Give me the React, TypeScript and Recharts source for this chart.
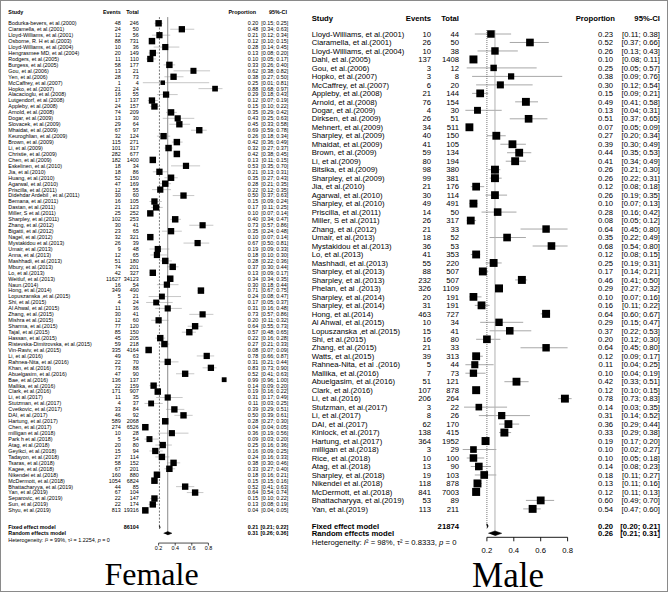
import React from "react";
import { ScatterChart, Scatter, XAxis, YAxis, ErrorBar, ReferenceLine } from "recharts";

// ---- Female ----
const femaleStudies = [
  "Bodurka-bevers, et al.(2000)", "Ciaramella, et al.(2001)", "Lloyd-Williams, et al.(2001)", "Osborne, R. H et al.(2003)",
  "Lloyd-Williams, et al.(2004)", "Hengrasmee MD, et al.(2004)", "Rodgers, et al.(2005)", "Burgess, et al.(2005)",
  "Gou, et al.(2006)", "Yen, et al.(2006)", "McCaffrey, et al.(2007)", "Hopko, et al.(2007)", "Alacacioglu, et al.(2008)",
  "Lutgendorf, et al.(2008)", "Appleby, et al.(2008)", "Arnold, et al.(2008)", "Dogar, et al.(2009)", "Slovacek, et al.(2009)",
  "Mhaidat, et al.(2009)", "Keuroghlian, et al.(2009)", "Brown, et al.(2009)", "Li, et al.(2009)", "Christie, et al.(2009)",
  "Chen, et al.(2009)", "Eskelinen, et al.(2010)", "Jia, et al.(2010)", "Huang, et al.(2010)", "Agarwal, et al.(2010)",
  "Priscilla, et al.(2011)", "Didehdar Ardebil , et al.(2011)", "Bemana, et al.(2011)", "Dastan, et al.(2011)",
  "Miller, S et al.(2011)", "Sharpley, et al.(2011)", "Zhang, et al.(2012)", "Bigatti, et al.(2012)", "Nagel, et al.(2012)",
  "Mystakidou et al.(2013)", "Umair, et al.(2013)", "Anna, et al.(2013)", "Mashhadi, et al.(2013)", "Mbury, et al.(2013)",
  "Lo, et al.(2013)", "Weitluf, et al.(2013)", "Naun.(2014)", "Hong, et al.(2014)", "Lopuszanska ,et al.(2015)",
  "Shi, et al.(2015)", "Al Ahwal, et al.(2015)", "Zhang, et al.(2015)", "Mishra et al.(2015)", "Sharma, et al.(2015)",
  "Tajal, et al.(2015)", "Hassan, et al.(2015)", "Ristevska-Dimitrovska, et al.(2015)", "Vin-Raviv, et al.(2015)",
  "Li, et al.(2016)", "Rahnea-Nita, et al.(2016)", "Khan, et al.(2016)", "Abuelgasim, et al.(2016)", "Bae, et al.(2016)",
  "Mallika, et al.(2016)", "Clark, et al.(2016)", "Li, et al.(2017)", "Stutzman, et al.(2017)", "Cvetkovic, et al.(2017)",
  "DAI, et al.(2017)", "Hartung, et al.(2017)", "Chen, et al.(2017)", "milligan et al.(2018)", "Park h et al.(2018)",
  "Atag, et al.(2018)", "Geyikci, et al.(2018)", "Tadayon, et al.(2018)", "Tsaras, et al.(2018)", "Kagee, et al.(2018)",
  "Nikendei et al.(2018)", "McDermott, et al.(2018)", "Bhattacharyya, et al.(2019)", "Yan, et al.(2019)",
  "Separovic, et al.(2019)", "Sun, et al.(2019)", "Shyu, et al.(2019)",
];
const femaleEvents = [48, 24, 12, 88, 10, 20, 11, 58, 13, 28, 1, 21, 16, 17, 24, 74, 13, 29, 67, 32, 115, 101, 282, 182, 18, 18, 52, 47, 12, 30, 16, 21, 25, 102, 30, 23, 32, 26, 9, 12, 51, 74, 42, 11627, 16, 349, 5, 4, 11, 30, 12, 77, 85, 45, 59, 335, 49, 22, 73, 47, 136, 22, 171, 11, 4, 33, 46, 589, 274, 10, 5, 20, 15, 27, 58, 67, 160, 1054, 44, 67, 22, 22, 813];
const femaleTotals = [246, 50, 56, 731, 36, 149, 110, 177, 21, 73, 4, 24, 55, 137, 157, 209, 30, 64, 97, 124, 271, 317, 677, 1400, 34, 86, 150, 169, 55, 60, 105, 123, 252, 253, 41, 65, 321, 39, 48, 65, 180, 201, 327, 34123, 54, 490, 21, 24, 36, 41, 60, 120, 150, 205, 218, 4164, 63, 70, 88, 90, 137, 159, 907, 35, 37, 84, 92, 2068, 6526, 28, 54, 80, 94, 114, 152, 201, 880, 6824, 85, 104, 147, 174, 19316];
const femaleProp = [0.20, 0.48, 0.21, 0.12, 0.28, 0.13, 0.10, 0.33, 0.62, 0.38, 0.25, 0.88, 0.29, 0.12, 0.15, 0.35, 0.43, 0.45, 0.69, 0.26, 0.42, 0.32, 0.42, 0.13, 0.53, 0.21, 0.35, 0.28, 0.22, 0.50, 0.15, 0.17, 0.10, 0.40, 0.73, 0.35, 0.10, 0.67, 0.19, 0.18, 0.28, 0.37, 0.13, 0.34, 0.30, 0.71, 0.24, 0.17, 0.31, 0.73, 0.20, 0.64, 0.57, 0.22, 0.27, 0.08, 0.78, 0.31, 0.83, 0.52, 0.99, 0.14, 0.19, 0.31, 0.11, 0.39, 0.50, 0.28, 0.04, 0.36, 0.09, 0.25, 0.16, 0.24, 0.38, 0.33, 0.18, 0.15, 0.52, 0.64, 0.15, 0.13, 0.04];
const femaleLower = [0.15, 0.34, 0.12, 0.10, 0.14, 0.08, 0.05, 0.26, 0.38, 0.27, 0.01, 0.68, 0.18, 0.07, 0.10, 0.29, 0.25, 0.33, 0.59, 0.18, 0.36, 0.27, 0.38, 0.11, 0.35, 0.13, 0.27, 0.21, 0.12, 0.37, 0.09, 0.11, 0.07, 0.34, 0.57, 0.24, 0.07, 0.50, 0.09, 0.10, 0.22, 0.30, 0.09, 0.34, 0.18, 0.67, 0.08, 0.05, 0.16, 0.57, 0.11, 0.55, 0.48, 0.16, 0.21, 0.07, 0.66, 0.21, 0.73, 0.41, 0.96, 0.09, 0.16, 0.17, 0.03, 0.29, 0.39, 0.27, 0.04, 0.19, 0.03, 0.16, 0.09, 0.16, 0.30, 0.27, 0.16, 0.15, 0.41, 0.54, 0.10, 0.08, 0.04];
const femaleUpper = [0.25, 0.63, 0.34, 0.15, 0.45, 0.20, 0.17, 0.40, 0.82, 0.50, 0.81, 0.97, 0.43, 0.19, 0.22, 0.42, 0.63, 0.58, 0.78, 0.34, 0.49, 0.37, 0.45, 0.15, 0.70, 0.31, 0.43, 0.35, 0.35, 0.63, 0.24, 0.25, 0.14, 0.47, 0.86, 0.48, 0.14, 0.81, 0.33, 0.30, 0.36, 0.44, 0.17, 0.35, 0.44, 0.75, 0.47, 0.37, 0.48, 0.86, 0.32, 0.73, 0.65, 0.28, 0.33, 0.09, 0.87, 0.44, 0.90, 0.63, 1.00, 0.20, 0.22, 0.49, 0.25, 0.51, 0.61, 0.30, 0.05, 0.56, 0.20, 0.36, 0.25, 0.33, 0.46, 0.40, 0.21, 0.16, 0.63, 0.74, 0.22, 0.19, 0.05];
const femaleTotal = 86104;
const femaleFixed = [0.21, 0.21, 0.22];
const femaleRandom = [0.31, 0.26, 0.36];
const femaleHet = { i2: "99%", tau2: 1.2254 };

// ---- Male ----
const maleStudies = [
  "Lloyd-Williams, et al.(2001)", "Ciaramella, et al.(2001)", "Lloyd-Williams, et al.(2004)", "Dahl, et al.(2005)",
  "Gou, et al.(2006)", "Hopko, et al.(2007)", "McCaffrey, et al.(2007)", "Appleby, et al.(2008)", "Arnold, et al.(2008)",
  "Dogar, et al.(2009)", "Dirksen, et al.(2009)", "Mehnert, et al.(2009)", "Sharpley, et al.(2009)", "Mhaidat, et al.(2009)",
  "Brown, et al.(2009)", "Li, et al.(2009)", "Bitsika, et al.(2009)", "Sharpley, et al.(2009)", "Jia, et al.(2010)",
  "Agarwal, et al.(2010)", "Sharpley, et al.(2010)", "Priscilla, et al.(2011)", "Miller, S et al.(2011)", "Zhang, et al.(2012)",
  "Umair, et al.(2013)", "Mystakidou et al.(2013)", "Lo, et al.(2013)", "Mashhadi, et al.(2013)", "Sharpley, et al.(2013)",
  "Sharpley, et al.(2013)", "Phelan, et al .(2013)", "Sharpley, et al.(2014)", "Sharpley, et al.(2014)", "Hong, et al.(2014)",
  "Al Ahwal, et al.(2015)", "Lopuszanska ,et al.(2015)", "Shi, et al.(2015)", "Zhang, et al.(2015)", "Watts, et al.(2015)",
  "Rahnea-Nita, et al .(2016)", "Mallika, et al.(2016)", "Abuelgasim, et al.(2016)", "Clark, et al.(2016)", "Li, et al.(2016)",
  "Stutzman, et al.(2017)", "Li, et al.(2017)", "DAI, et al.(2017)", "Kinlock, et al.(2017)", "Hartung, et al.(2017)",
  "milligan et al.(2018)", "Rice, et al.(2018)", "Atag, et al.(2018)", "Sharpley, et al.(2018)", "Nikendei et al.(2018)",
  "McDermott, et al.(2018)", "Bhattacharyya, et al.(2019)", "Yan, et al.(2019)",
];
const maleEvents = [10, 26, 10, 137, 3, 3, 6, 21, 76, 4, 26, 34, 40, 41, 59, 80, 98, 99, 21, 30, 49, 14, 26, 21, 18, 36, 41, 55, 88, 232, 326, 20, 31, 463, 10, 15, 16, 21, 39, 5, 7, 51, 107, 206, 3, 8, 62, 138, 364, 3, 10, 13, 19, 118, 841, 53, 113];
const maleTotals = [44, 50, 38, 1408, 12, 8, 20, 144, 154, 30, 51, 511, 150, 105, 134, 194, 380, 381, 176, 114, 491, 50, 317, 33, 52, 53, 353, 220, 507, 507, 1109, 191, 191, 727, 34, 41, 80, 33, 313, 44, 73, 121, 878, 264, 22, 26, 170, 415, 1952, 29, 100, 90, 103, 878, 7003, 89, 211];
const maleProp = [0.23, 0.52, 0.26, 0.10, 0.25, 0.38, 0.30, 0.15, 0.49, 0.13, 0.51, 0.07, 0.27, 0.39, 0.44, 0.41, 0.26, 0.26, 0.12, 0.26, 0.10, 0.28, 0.08, 0.64, 0.35, 0.68, 0.12, 0.25, 0.17, 0.46, 0.29, 0.10, 0.16, 0.64, 0.29, 0.37, 0.20, 0.64, 0.12, 0.11, 0.10, 0.42, 0.12, 0.78, 0.14, 0.31, 0.36, 0.33, 0.19, 0.10, 0.10, 0.14, 0.18, 0.13, 0.12, 0.60, 0.54];
const maleLower = [0.11, 0.37, 0.13, 0.08, 0.05, 0.09, 0.12, 0.09, 0.41, 0.04, 0.37, 0.05, 0.20, 0.30, 0.35, 0.34, 0.21, 0.22, 0.08, 0.19, 0.07, 0.16, 0.05, 0.45, 0.22, 0.54, 0.08, 0.19, 0.14, 0.41, 0.27, 0.07, 0.11, 0.60, 0.15, 0.22, 0.12, 0.45, 0.09, 0.04, 0.04, 0.33, 0.10, 0.73, 0.03, 0.14, 0.29, 0.29, 0.17, 0.02, 0.05, 0.08, 0.11, 0.11, 0.11, 0.49, 0.47];
const maleUpper = [0.38, 0.66, 0.43, 0.11, 0.57, 0.76, 0.54, 0.21, 0.58, 0.31, 0.65, 0.09, 0.34, 0.49, 0.53, 0.49, 0.30, 0.31, 0.18, 0.35, 0.13, 0.42, 0.12, 0.80, 0.49, 0.80, 0.15, 0.31, 0.21, 0.50, 0.32, 0.16, 0.22, 0.67, 0.47, 0.53, 0.30, 0.80, 0.17, 0.25, 0.19, 0.51, 0.15, 0.83, 0.35, 0.52, 0.44, 0.38, 0.20, 0.27, 0.18, 0.23, 0.27, 0.16, 0.13, 0.70, 0.60];
const maleTotal = 21874;
const maleFixed = [0.20, 0.20, 0.21];
const maleRandom = [0.26, 0.21, 0.31];
const maleHet = { i2: "98%", tau2: 0.8333 };

const xTicks = [0.2, 0.4, 0.6, 0.8];

const SANS = '"Liberation Sans", Arial, Helvetica, sans-serif';

interface Geo {
  left: number; width: number; top: number; bottom: number; right: number; axisW: number;
  font: number; sideMax: number; headerRow: number; fixedRow: number; randomRow: number;
  domain: [number, number]; lineTop: number; hetDy: number;
  study: number; events: number; total: number; prop: number; ci: number; propHead: number; ciHead: number;
  tickSize: number; tickMargin: number; ciStroke: string; ciWidth: number; axisWidth: number;
  fixedDash: string; randomStroke: string;
}

const leftGeo: Geo = {
  left: 0, width: 305, top: 8.45, bottom: 28.95, right: 80, axisW: 142,
  font: 5.4, sideMax: 6.5, headerRow: -0.95, fixedRow: 85.85, randomRow: 86.85,
  domain: [-1.5, 88.5], lineTop: -0.05, hetDy: 7,
  study: 8.3, events: 120.7, total: 138.7, prop: 258.3, ci: 288.3, propHead: 256, ciHead: 287,
  tickSize: 2.5, tickMargin: 1, ciStroke: "#b0b0b0", ciWidth: 0.7, axisWidth: 0.7,
  fixedDash: "2 1.5", randomStroke: "#8a8a8a",
};

const rightGeo: Geo = {
  left: 305, width: 363, top: 12.8, bottom: 34.7, right: 73.5, axisW: 155,
  font: 7.7, sideMax: 8, headerRow: -0.85, fixedRow: 59.02, randomRow: 59.88,
  domain: [-1.5, 60.35], lineTop: 0.53, hetDy: 9,
  study: 6.7, events: 126, total: 154, prop: 308, ci: 355, propHead: 310, ciHead: 355,
  tickSize: 4, tickMargin: 6, ciStroke: "#a8a8a8", ciWidth: 1, axisWidth: 0.9,
  fixedDash: "1 1", randomStroke: "#b0b0b0",
};

interface PanelProps {
  studies: string[]; events: number[]; totals: number[];
  prop: number[]; lower: number[]; upper: number[];
  total: number; fixed: number[]; random: number[]; het: { i2: string; tau2: number };
  geo: Geo;
}

const ci = (lo: number, hi: number) => `[${lo.toFixed(2)}; ${hi.toFixed(2)}]`;
const noDot = () => <g />;

function ForestPanel(p: PanelProps) {
  const g = p.geo;
  // random-effects weight -> square side
  const points = p.studies.map((name, i) => {
    const e = p.events[i];
    const n = p.totals[i];
    const v = 1 / Math.max(e, 0.5) + 1 / Math.max(n - e, 0.5);
    const w = 1 / (v + p.het.tau2);
    return {
      x: p.prop[i],
      row: i + 1,
      err: [p.prop[i] - p.lower[i], p.upper[i] - p.prop[i]],
      side: g.sideMax * Math.sqrt(w * p.het.tau2),
    };
  });

  const h = 0.28;
  const diamond = (est: number[], row: number) => [
    { x: est[1], row },
    { x: est[0], row: row - h },
    { x: est[2], row },
    { x: est[0], row: row + h },
  ];
  const vline = (x: number, rowEnd: number) => [
    { x, row: g.lineTop },
    { x, row: rowEnd },
  ];

  const ticks = [g.headerRow, ...p.studies.map((_, i) => i + 1), g.fixedRow, g.randomRow];

  const txt = (x: number, y: number, s: React.ReactNode, anchor: "start" | "end", bold = false) => (
    <text x={x} y={y} dy="0.35em" fontSize={g.font} fontFamily={SANS} fontWeight={bold ? "bold" : "normal"}
      textAnchor={anchor} fill="#000">{s}</text>
  );

  const renderRow = (props: any) => {
    const { y, payload } = props;
    const v = payload.value;
    if (v === g.headerRow) {
      return (
        <g>
          {txt(g.study, y, "Study", "start", true)}
          {txt(g.events, y, "Events", "end", true)}
          {txt(g.total, y, "Total", "end", true)}
          {txt(g.propHead, y, "Proportion", "end", true)}
          {txt(g.ciHead, y, "95%-CI", "end", true)}
        </g>
      );
    }
    if (v === g.fixedRow) {
      return (
        <g>
          {txt(g.study, y, "Fixed effect model", "start", true)}
          {txt(g.total, y, String(p.total), "end", true)}
          {txt(g.prop, y, p.fixed[0].toFixed(2), "end", true)}
          {txt(g.ci, y, ci(p.fixed[1], p.fixed[2]), "end", true)}
        </g>
      );
    }
    if (v === g.randomRow) {
      return (
        <g>
          {txt(g.study, y, "Random effects model", "start", true)}
          {txt(g.prop, y, p.random[0].toFixed(2), "end", true)}
          {txt(g.ci, y, ci(p.random[1], p.random[2]), "end", true)}
          <text x={g.study} y={y + g.hetDy} dy="0.35em" fontSize={g.font} fontFamily={SANS} fill="#000">
            Heterogeneity: <tspan fontStyle="italic">I</tspan>{`² = ${p.het.i2}, τ² = ${p.het.tau2.toFixed(4)}, `}
            <tspan fontStyle="italic">p</tspan> = 0
          </text>
        </g>
      );
    }
    const i = v - 1;
    if (i < 0 || i >= p.studies.length) return <g />;
    return (
      <g>
        {txt(g.study, y, p.studies[i], "start")}
        {txt(g.events, y, String(p.events[i]), "end")}
        {txt(g.total, y, String(p.totals[i]), "end")}
        {txt(g.prop, y, p.prop[i].toFixed(2), "end")}
        {txt(g.ci, y, ci(p.lower[i], p.upper[i]), "end")}
      </g>
    );
  };

  return (
    <div style={{ position: "absolute", left: g.left, top: 0 }}>
      <ScatterChart width={g.width} height={592} margin={{ top: g.top, right: g.right, bottom: g.bottom, left: 0 }}>
        <XAxis type="number" dataKey="x" domain={[0, 1]} ticks={xTicks} interval={0} height={20}
          axisLine={false} tickSize={g.tickSize} tickMargin={g.tickMargin}
          tickLine={{ stroke: "#000", strokeWidth: g.axisWidth }}
          tick={{ fontSize: g.font, fill: "#000", fontFamily: SANS }} />
        <YAxis type="number" dataKey="row" domain={g.domain} reversed ticks={ticks} interval={0}
          width={g.axisW} axisLine={false} tickLine={false} tick={renderRow} />
        <ReferenceLine segment={[{ x: xTicks[0], y: g.domain[1] }, { x: xTicks[xTicks.length - 1], y: g.domain[1] }]}
          stroke="#000" strokeWidth={g.axisWidth} ifOverflow="visible" />
        {/* random-effects and fixed-effect estimate lines */}
        <Scatter data={vline(p.random[0], g.randomRow)} isAnimationActive={false} fill={g.randomStroke}
          line={{ stroke: g.randomStroke, strokeWidth: 1 }} shape={noDot} />
        <Scatter data={vline(p.fixed[0], g.fixedRow)} isAnimationActive={false} fill="#666"
          line={{ stroke: "#666", strokeWidth: 0.9, strokeDasharray: g.fixedDash }} shape={noDot} />
        <Scatter data={points} isAnimationActive={false} shape={noDot}>
          <ErrorBar dataKey="err" direction="x" width={0} stroke={g.ciStroke} strokeWidth={g.ciWidth} />
        </Scatter>
        <Scatter data={points} isAnimationActive={false} fill="#000"
          shape={(s: any) => {
            const side = s.payload.side;
            return <rect x={s.cx - side / 2} y={s.cy - side / 2} width={side} height={side} fill="#000" />;
          }} />
        <Scatter data={diamond(p.fixed, g.fixedRow)} isAnimationActive={false} fill="#000"
          line={{ stroke: "#000", fill: "#000", strokeWidth: 0.5 }} shape={noDot} />
        <Scatter data={diamond(p.random, g.randomRow)} isAnimationActive={false} fill="#000"
          line={{ stroke: "#000", fill: "#000", strokeWidth: 0.5 }} shape={noDot} />
      </ScatterChart>
    </div>
  );
}

export default function App() {
  return (
    <div style={{ position: "absolute", left: 0, top: 0, width: 668, height: 592, background: "#fff", overflow: "hidden" }}>
      <ForestPanel studies={femaleStudies} events={femaleEvents} totals={femaleTotals} prop={femaleProp}
        lower={femaleLower} upper={femaleUpper} total={femaleTotal} fixed={femaleFixed} random={femaleRandom}
        het={femaleHet} geo={leftGeo} />
      <ForestPanel studies={maleStudies} events={maleEvents} totals={maleTotals} prop={maleProp}
        lower={maleLower} upper={maleUpper} total={maleTotal} fixed={maleFixed} random={maleRandom}
        het={maleHet} geo={rightGeo} />
      <svg width={668} height={592} style={{ position: "absolute", left: 0, top: 0, pointerEvents: "none" }}>
        <text x={151.5} y={585} textAnchor="middle" fontSize={32} fontFamily='"Liberation Serif", "Times New Roman", serif' fill="#000">Female</text>
        <text x={508} y={586.5} textAnchor="middle" fontSize={35} fontFamily='"Liberation Serif", "Times New Roman", serif' fill="#000">Male</text>
      </svg>
      <div style={{ position: "absolute", inset: 0, border: "1px solid #8a8a8a", pointerEvents: "none" }} />
    </div>
  );
}
